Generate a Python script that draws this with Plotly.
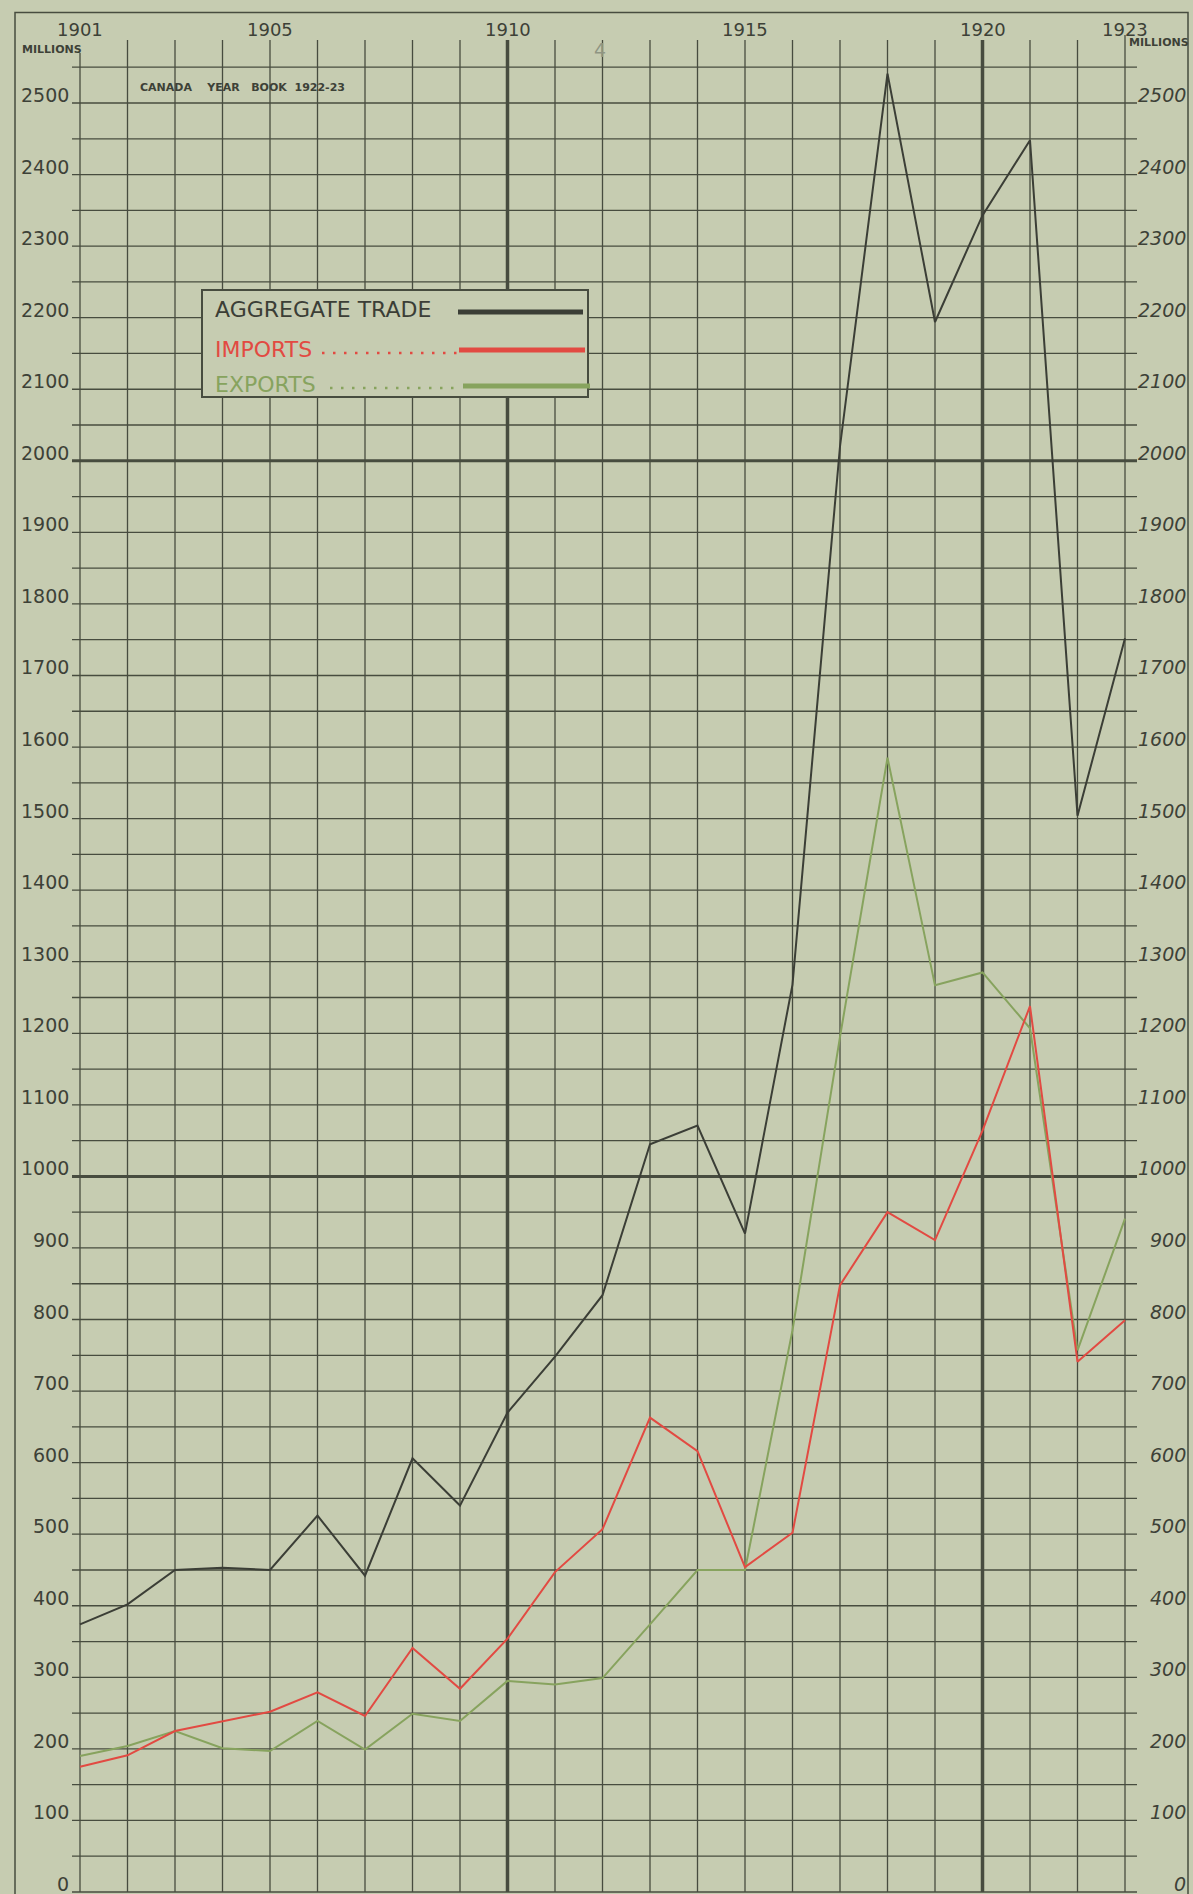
import plotly.graph_objects as go

# Canada Year Book 1922-23: aggregate trade, imports and exports, millions of dollars
years = list(range(1901, 1924))
aggregate_trade = [374, 402, 450, 453, 450, 526, 442, 606, 540, 670, 748, 834,
                   1045, 1071, 920, 1268, 2020, 2541, 2194, 2343, 2448, 1504, 1752]
imports = [175, 191, 225, 239, 252, 279, 246, 341, 284, 354, 447, 507,
           663, 616, 454, 502, 848, 950, 911, 1064, 1238, 741, 799]
exports = [190, 204, 225, 201, 197, 239, 199, 249, 239, 295, 290, 299,
           374, 450, 450, 785, 1195, 1585, 1267, 1285, 1207, 757, 941]

label_values = list(range(0, 2600, 100))
grid_values = list(range(0, 2600, 50))
year_labels = [1901, 1905, 1910, 1915, 1920, 1923]
heavy_years = [1910, 1920]
heavy_values = [1000, 2000]
series_names = ['AGGREGATE TRADE', 'IMPORTS', 'EXPORTS']

PAPER = '#c6ccb1'
GRID = '#474c3f'
INK = '#3d4137'
AGG = '#3b3e36'
RED = '#e24a42'
GREEN = '#87a35e'
FONT = 'DejaVu Sans'

# page geometry (pixels) used to place the axes
W, H = 1193, 1894
X_1901, PX_YEAR = 80, 47.5
Y_ZERO, PX_UNIT = 1892, 0.7156


def xd(px):
    return 1901 + (px - X_1901) / PX_YEAR


def yd(py):
    return (Y_ZERO - py) / PX_UNIT


fig = go.Figure()

# the three series
for vals, color, width in [(aggregate_trade, AGG, 2.0),
                           (exports, GREEN, 2.0),
                           (imports, RED, 2.0)]:
    fig.add_trace(go.Scatter(x=years, y=vals, mode='lines',
                             line=dict(color=color, width=width),
                             hoverinfo='skip', showlegend=False))

shapes = []
# horizontal rulings
for v in grid_values:
    shapes.append(dict(type='line', layer='below', x0=xd(72), x1=xd(1137), y0=v, y1=v,
                       line=dict(color=GRID, width=3 if v in heavy_values else 1.3)))
# vertical rulings, one per year
for yr in years:
    top = 53 if yr == years[0] else (35 if yr == years[-1] else 40)
    shapes.append(dict(type='line', layer='below', x0=yr, x1=yr, y0=0, y1=yd(top),
                       line=dict(color=GRID, width=3.5 if yr in heavy_years else 1.3)))
# outer frame
shapes.append(dict(type='rect', layer='below', x0=xd(15), x1=xd(1188), y0=yd(1910), y1=yd(12.5),
                   line=dict(color=GRID, width=1.5)))

# legend box
shapes.append(dict(type='rect', layer='above', x0=xd(202), x1=xd(588), y0=yd(397), y1=yd(290),
                   fillcolor=PAPER, line=dict(color=GRID, width=2)))
legend_rows = [
    # name, colour, text y, bar x0, bar x1, bar y, dots x0, dots y
    (series_names[0], AGG, 309, 458, 583, 312, None, None),
    (series_names[1], RED, 349, 459, 585, 350, 322, 353),
    (series_names[2], GREEN, 384, 463, 590, 386, 330, 388),
]
annotations = []
for name, color, ty, bx0, bx1, by, dx0, dy in legend_rows:
    shapes.append(dict(type='line', layer='above', x0=xd(bx0), x1=xd(bx1), y0=yd(by), y1=yd(by),
                       line=dict(color=color, width=5)))
    if dx0 is not None:
        shapes.append(dict(type='line', layer='above', x0=xd(dx0), x1=xd(bx0 - 2), y0=yd(dy), y1=yd(dy),
                           line=dict(color=color, width=2.5, dash='2.5px,8.5px')))
    annotations.append(dict(x=xd(213), y=yd(ty), text=name, showarrow=False,
                            xanchor='left', yanchor='middle',
                            font=dict(family=FONT, size=22, color=color)))

# value labels, left and right
for v in label_values:
    annotations.append(dict(x=xd(71), y=v, yshift=8, text=str(v), showarrow=False,
                            xanchor='right', yanchor='middle',
                            font=dict(family=FONT, size=19, color=INK)))
    annotations.append(dict(x=xd(1188), y=v, yshift=8, text='<i>%d</i>' % v, showarrow=False,
                            xanchor='right', yanchor='middle',
                            font=dict(family=FONT, size=19, color=INK)))

# year labels along the top
for yr in year_labels:
    annotations.append(dict(x=yr, y=yd(29), text=str(yr), showarrow=False,
                            xanchor='center', yanchor='middle',
                            font=dict(family=FONT, size=18, color=INK)))

sp = '\u00a0'
annotations += [
    dict(x=xd(52), y=yd(49), text='<b>MILLIONS</b>', showarrow=False,
         font=dict(family=FONT, size=11, color=INK)),
    dict(x=xd(1159), y=yd(42), text='<b>MILLIONS</b>', showarrow=False,
         font=dict(family=FONT, size=11, color=INK)),
    dict(x=xd(138), y=yd(87),
         text='<b>CANADA' + sp * 4 + 'YEAR' + sp * 3 + 'BOOK' + sp * 2 + '1922-23</b>',
         showarrow=False, xanchor='left', yanchor='middle',
         font=dict(family=FONT, size=11, color=INK)),
    dict(x=xd(600), y=yd(50), text='4', showarrow=False,
         font=dict(family=FONT, size=19, color='#8f9583')),
]

fig.update_layout(
    width=W, height=H,
    margin=dict(l=0, r=0, t=0, b=0),
    paper_bgcolor=PAPER, plot_bgcolor=PAPER,
    showlegend=False,
    xaxis=dict(range=[xd(0), xd(W)], visible=False, fixedrange=True),
    yaxis=dict(range=[yd(H), yd(0)], visible=False, fixedrange=True),
    shapes=shapes,
    annotations=annotations,
)

fig.write_html("out.html", config={'displayModeBar': False},
               post_script="document.body.style.margin='0px';")
